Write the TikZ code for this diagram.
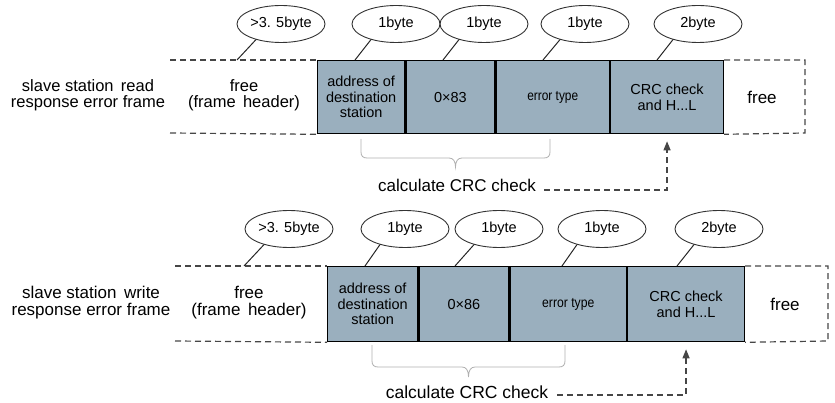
\documentclass[tikz,border=0pt]{standalone}
\usepackage{fontspec}
\setmainfont{Liberation Sans}
\usepackage{graphicx}
\usetikzlibrary{shapes.geometric,arrows.meta,calc}
\definecolor{boxblue}{RGB}{154,175,190}
\definecolor{dashgray}{RGB}{70,70,70}
\definecolor{bracegray}{RGB}{175,175,175}
\newcommand\fsz[2]{\fontsize{#1}{#2}\selectfont}
\begin{document}
\begin{tikzpicture}[x=1pt,y=-1pt,
  field/.style={draw=black, line width=1.3pt, fill=boxblue, anchor=north west, inner sep=0pt, align=center, font=\fsz{14.5}{15.5}},
  sizebubble/.style={ellipse, draw=black!80, line width=0.9pt, minimum width=88pt, minimum height=37pt, inner sep=0pt, font=\fsz{14.5}{16}},
  callout/.style={draw=black!85, line width=1pt},
  dashedline/.style={draw=dashgray, line width=1.2pt, dash pattern=on 6pt off 4pt},
  dasharrow/.style={dashedline, -{Triangle[width=7pt,length=9pt]}},
  bracepath/.style={draw=bracegray, line width=0.8pt},
  rowtext/.style={align=center, inner sep=0pt, font=\fsz{16.5}{16.5}},
  calctext/.style={inner sep=0pt, font=\fsz{17}{17}},
  errtext/.style={font=\fsz{14}{15.5}}
]
\useasboundingbox (0,0) rectangle (835,403);

% ================= top frame =================
\node[field, minimum width=87pt, minimum height=73pt] (ta) at (317,60) {address of\\destination\\station};
\node[field, minimum width=89pt, minimum height=73pt] (tb) at (ta.north east) {0×83};
\node[field, errtext, minimum width=113pt, minimum height=73pt] (tc) at (tb.north east) {\scalebox{0.85}[1]{error type}};
\node[field, minimum width=113pt, minimum height=73pt, font=\fsz{14.5}{16.5}] (td) at (tc.north east) {CRC check\\and H...L};

\coordinate (tl1) at (170,60);
\coordinate (tl2) at (170,133);
\coordinate (tr1) at (805,60);
\coordinate (tr2) at (805,133);
\draw[dashedline] (tl1) -- (ta.north west);
\draw[dashedline] (tl2) -- (ta.south west);
\draw[dashedline] (td.north east) -- (tr1) -- (tr2) -- (td.south east);

\node[rowtext] (trow) at (88,95) {slave station\, read\\response error frame};
\node[rowtext] (tfree) at (244,95) {free\\(frame\, header)};
\node[rowtext, font=\fsz{17}{17}] (tfree2) at (762,97) {free};

\node[sizebubble] (t1) at (281,24) {>3. 5byte};
\node[sizebubble] (t2) at (396,24) {1byte};
\node[sizebubble] (t3) at (484,24) {1byte};
\node[sizebubble] (t4) at (585,24) {1byte};
\node[sizebubble] (t5) at (698,24) {2byte};
\coordinate (t1e) at (237,60);
\coordinate (t2e) at (355,60);
\coordinate (t3e) at (443,60);
\coordinate (t4e) at (543,60);
\coordinate (t5e) at (657,60);
\foreach \i in {1,...,5}{\draw[callout] (t\i.212) -- (t\i e);}

\draw[bracepath] (361,139) -- (361,152) .. controls (361,156) and (363,158) .. (367,158) -- (449,158)
  .. controls (453,158) and (455.5,161) .. (455.5,167) .. controls (455.5,161) and (458,158) .. (462,158)
  -- (544,158) .. controls (548,158) and (550,156) .. (550,152) -- (550,139);

\node[calctext] (tcalc) at (457,185) {calculate CRC check};
\draw[dasharrow] ([shift={(8,5)}]tcalc.east) -| ([yshift=-7pt]td.south);

% ================= bottom frame =================
\node[field, minimum width=90pt, minimum height=75pt] (ba) at (327,266) {address of\\destination\\station};
\node[field, minimum width=90pt, minimum height=75pt] (bb) at (ba.north east) {0×86};
\node[field, errtext, minimum width=116pt, minimum height=75pt] (bc) at (bb.north east) {\scalebox{0.87}[1]{error type}};
\node[field, minimum width=117pt, minimum height=75pt, font=\fsz{14.5}{16.5}] (bd) at (bc.north east) {CRC check\\and H...L};

\coordinate (bl1) at (175,266);
\coordinate (bl2) at (175,341);
\coordinate (br1) at (828,266);
\coordinate (br2) at (828,341);
\draw[dashedline] (bl1) -- (ba.north west);
\draw[dashedline] (bl2) -- (ba.south west);
\draw[dashedline] (bd.north east) -- (br1) -- (br2) -- (bd.south east);

\node[rowtext, font=\fsz{17}{17}] (brow) at (91,303) {slave station\, write\\response error frame};
\node[rowtext, font=\fsz{17}{17}] (bfree) at (249,303) {free\\(frame\, header)};
\node[rowtext, font=\fsz{17}{17}] (bfree2) at (785,304) {free};

\node[sizebubble] (b1) at (289,229) {>3. 5byte};
\node[sizebubble] (b2) at (405,229) {1byte};
\node[sizebubble] (b3) at (499,229) {1byte};
\node[sizebubble] (b4) at (602,229) {1byte};
\node[sizebubble] (b5) at (719,229) {2byte};
\coordinate (b1e) at (244,266);
\coordinate (b2e) at (365,266);
\coordinate (b3e) at (455,266);
\coordinate (b4e) at (562,266);
\coordinate (b5e) at (677,266);
\foreach \i in {1,...,5}{\draw[callout] (b\i.212) -- (b\i e);}

\draw[bracepath] (372,345) -- (372,361) .. controls (372,365) and (374,367) .. (378,367) -- (462,367)
  .. controls (466,367) and (468.5,370) .. (468.5,377) .. controls (468.5,370) and (471,367) .. (475,367)
  -- (559,367) .. controls (563,367) and (565,365) .. (565,361) -- (565,345);

\node[calctext, font=\fsz{17.5}{17.5}] (bcalc) at (467,392) {calculate CRC check};
\draw[dasharrow] ([shift={(9,3)}]bcalc.east) -| ([yshift=-7pt]bd.south);
\end{tikzpicture}
\end{document}
